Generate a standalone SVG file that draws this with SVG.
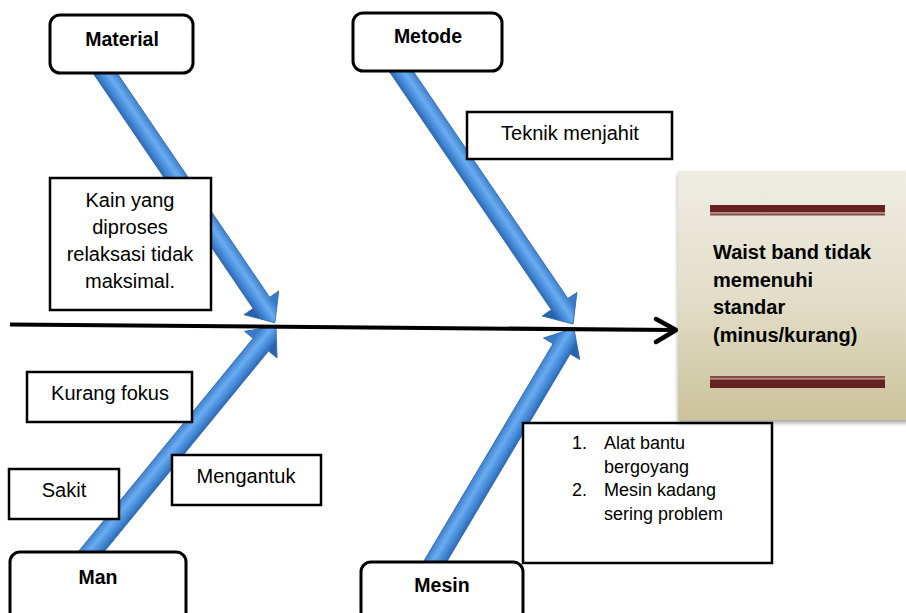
<svg xmlns="http://www.w3.org/2000/svg" width="906" height="613" viewBox="0 0 906 613">
<style>
.rbox{fill:#fff;stroke:#000;stroke-width:3}
.tbox{fill:#fff;stroke:#000;stroke-width:2.5}
.lbl{font-family:"Liberation Sans",Arial,sans-serif;font-size:19.5px;font-weight:bold;fill:#000;text-anchor:middle}
.txt{font-family:"Liberation Sans",Arial,sans-serif;font-size:20px;fill:#000;text-anchor:middle}
.lst{font-family:"Liberation Sans",Arial,sans-serif;font-size:18px;fill:#000}
.ttl{font-family:"Liberation Sans",Arial,sans-serif;font-size:20px;font-weight:bold;fill:#000}
.blue{fill:url(#bg);stroke:#2d67ad;stroke-width:0.8}
</style>
<defs>
<linearGradient id="bg" gradientUnits="userSpaceOnUse" x1="0" y1="-11" x2="0" y2="11">
<stop offset="0" stop-color="#3a7acb"/>
<stop offset="0.4" stop-color="#6aacf0"/>
<stop offset="0.7" stop-color="#458bd9"/>
<stop offset="1" stop-color="#2a62ab"/>
</linearGradient>
<linearGradient id="eg" x1="0" y1="0" x2="0" y2="1">
<stop offset="0" stop-color="#efede3"/>
<stop offset="0.5" stop-color="#e2dec9"/>
<stop offset="1" stop-color="#cbc39b"/>
</linearGradient>
<filter id="sh" x="-10%" y="-10%" width="130%" height="130%">
<feDropShadow dx="0" dy="3" stdDeviation="2" flood-color="#000" flood-opacity="0.35"/>
</filter>
</defs>

<g id="connectors">
<path class="blue" transform="translate(96.6,60.6) rotate(55.78)" d="M0,-10 L293,-10 L293,-21 L317,0 L293,21 L293,10 L0,10 Z"/>
<path class="blue" transform="translate(392.6,58.6) rotate(55.79)" d="M0,-10 L297,-10 L297,-21 L321,0 L297,21 L297,10 L0,10 Z"/>
<path class="blue" transform="translate(81.5,563.6) rotate(-50.69)" d="M0,-10 L283,-10 L283,-21 L307,0 L283,21 L283,10 L0,10 Z"/>
<path class="blue" transform="translate(427.3,574.9) rotate(-59.29)" d="M0,-10 L263,-10 L263,-21 L287,0 L263,21 L263,10 L0,10 Z"/>
<line x1="10" y1="324.5" x2="674" y2="330" stroke="#000" stroke-width="4"/>
<polyline points="656,319 676,330 656,342" fill="none" stroke="#000" stroke-width="4.5" stroke-linecap="round" stroke-linejoin="round"/>
</g>

<g id="material">
<rect class="rbox" x="50" y="15" width="143" height="58" rx="10"/>
<text class="lbl" x="122" y="46">Material</text>
</g>
<g id="metode">
<rect class="rbox" x="353" y="13" width="149" height="58" rx="10"/>
<text class="lbl" x="428" y="43">Metode</text>
</g>
<g id="man">
<rect class="rbox" x="10" y="552" width="176" height="70" rx="10"/>
<text class="lbl" x="98" y="584">Man</text>
</g>
<g id="mesin">
<rect class="rbox" x="361" y="562" width="162" height="60" rx="10"/>
<text class="lbl" x="442" y="592">Mesin</text>
</g>

<g id="kain">
<rect class="tbox" x="50" y="178" width="161" height="132"/>
<text class="txt" x="130" y="207">Kain yang</text>
<text class="txt" x="130" y="234">diproses</text>
<text class="txt" x="130" y="261">relaksasi tidak</text>
<text class="txt" x="130" y="288">maksimal.</text>
</g>
<g id="teknik">
<rect class="tbox" x="467" y="112" width="205" height="47"/>
<text class="txt" x="570" y="140">Teknik menjahit</text>
</g>
<g id="kurang">
<rect class="tbox" x="27" y="372" width="165" height="50"/>
<text class="txt" x="110" y="400">Kurang fokus</text>
</g>
<g id="sakit">
<rect class="tbox" x="9" y="469" width="110" height="50"/>
<text class="txt" x="64" y="497">Sakit</text>
</g>
<g id="mengantuk">
<rect class="tbox" x="172" y="455" width="149" height="50"/>
<text class="txt" x="246" y="483">Mengantuk</text>
</g>
<g id="mesin-list">
<rect class="tbox" x="523" y="423" width="249" height="140"/>
<text class="lst" x="572" y="449">1.</text>
<text class="lst" x="604" y="449">Alat bantu</text>
<text class="lst" x="604" y="472.5">bergoyang</text>
<text class="lst" x="572" y="496">2.</text>
<text class="lst" x="604" y="496">Mesin kadang</text>
<text class="lst" x="604" y="519.5">sering problem</text>
</g>

<g id="effect">
<rect x="678" y="171" width="232" height="249" fill="url(#eg)" filter="url(#sh)"/>
<rect x="710" y="205" width="175" height="7" fill="#662222"/>
<rect x="710" y="212" width="175" height="1.5" fill="#b88c86"/>
<rect x="710" y="213.5" width="175" height="2" fill="#8a4a44"/>
<rect x="710" y="376" width="175" height="2" fill="#8a4a44"/>
<rect x="710" y="378" width="175" height="1.5" fill="#b88c86"/>
<rect x="710" y="379.5" width="175" height="8.5" fill="#662222"/>
<text class="ttl" x="713" y="259">Waist band tidak</text>
<text class="ttl" x="713" y="287">memenuhi</text>
<text class="ttl" x="713" y="314">standar</text>
<text class="ttl" x="713" y="342">(minus/kurang)</text>
</g>
</svg>
